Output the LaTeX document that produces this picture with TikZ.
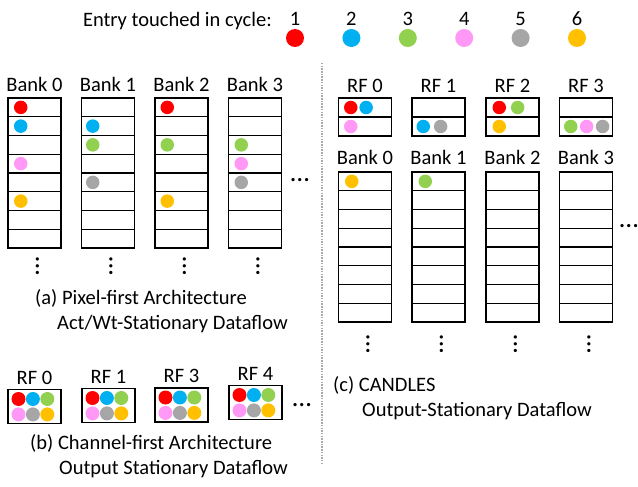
\documentclass[tikz,border=0pt]{standalone}
\usepackage{fontspec}
\setmainfont{Carlito}
\usetikzlibrary{positioning}
\definecolor{cyc1}{RGB}{255,0,0}
\definecolor{cyc2}{RGB}{0,176,240}
\definecolor{cyc3}{RGB}{146,208,80}
\definecolor{cyc4}{RGB}{255,153,245}
\definecolor{cyc5}{RGB}{166,166,166}
\definecolor{cyc6}{RGB}{255,192,0}
\tikzset{
  txt/.style = {inner sep=0pt, text height=13pt, text depth=0pt, font=\fontsize{20.5}{24}\selectfont},
  more/.style = {inner sep=0pt, text height=2.5pt, text depth=0pt, font=\fontsize{27}{30}\selectfont},
  cell/.style = {draw=black, line width=1.4pt, minimum width=53pt, minimum height=18.75pt, inner sep=0pt},
  rf_box/.style = {cell, minimum height=34pt},
  dot/.style = {circle, fill=cyc#1, inner sep=0pt, minimum size=13.5pt},
  big_dot/.style = {dot=#1, minimum size=14pt},
  sep_line/.style = {draw=black!33, line width=2pt, dash pattern=on 1.5pt off 1.2pt}
}

\begin{document}
\begin{tikzpicture}[x=1pt, y=1pt]
  \useasboundingbox (0,0) rectangle (638,-487);

  % legend
  \node[txt, anchor=east] (legend) at (272,-20) {Entry touched in cycle:};
  \foreach \i in {1,...,6} {
    \node[txt] (num\i) at (238.6+56.4*\i,-19) {\i};
    \node[dot=\i, minimum size=18pt] (leg\i) at (238.6+56.4*\i,-38) {};
  }

  % (a) pixel-first banks
  \foreach \b/\x in {0/8,1/81.5,2/155,3/228.5} {
    \node[txt] (abank\b) at (\x+26.5,-85) {Bank \b};
    \foreach \r in {1,...,8}
      \node[cell] (a\b-\r) at (\x+26.5,-88.625-18.75*\r) {};
    \node[more, rotate=90] (avd\b) at (\x+29.5,-266) {…};
  }
  \node[more] (ahd) at (300,-180) {…};
  % Bank 0
  \node[dot=1, right=6.5pt of a0-1.west] (ad0-1) {};
  \node[dot=2, right=6.5pt of a0-2.west] (ad0-2) {};
  \node[dot=4, right=6.5pt of a0-4.west] (ad0-4) {};
  \node[dot=6, right=6.5pt of a0-6.west] (ad0-6) {};
  % Bank 1
  \node[dot=2, right=5pt of a1-2.west] (ad1-2) {};
  \node[dot=3, right=5pt of a1-3.west] (ad1-3) {};
  \node[dot=5, right=5pt of a1-5.west] (ad1-5) {};
  % Bank 2
  \node[dot=1, right=6pt of a2-1.west] (ad2-1) {};
  \node[dot=3, right=6pt of a2-3.west] (ad2-3) {};
  \node[dot=6, right=6pt of a2-6.west] (ad2-6) {};
  % Bank 3
  \node[dot=3, right=6.5pt of a3-3.west] (ad3-3) {};
  \node[dot=4, right=6.5pt of a3-4.west] (ad3-4) {};
  \node[dot=5, right=6.5pt of a3-5.west] (ad3-5) {};

  \node[txt, anchor=west] (capa1) at (35,-298) {(a) Pixel-first Architecture};
  \node[txt, anchor=west] (capa2) at (57,-323) {Act/Wt-Stationary Dataflow};

  % (b) channel-first register files
  \foreach \b/\n/\x/\y in {0/0/8/406.5,1/1/82/405.5,2/3/155/405,3/4/229/402.5} {
    \node[txt] (brf\b) at (\x+26.5,29-\y) {RF \n};
    \node[rf_box] (b\b) at (\x+26.5,-\y) {};
    \node[big_dot=1, right=4pt of b\b.west, yshift=7.5pt] (b\b-1) {};
    \node[big_dot=2, right=0pt of b\b-1] (b\b-2) {};
    \node[big_dot=3, right=0pt of b\b-2] (b\b-3) {};
    \node[big_dot=4, below=1pt of b\b-1] (b\b-4) {};
    \node[big_dot=5, right=0pt of b\b-4] (b\b-5) {};
    \node[big_dot=6, right=0pt of b\b-5] (b\b-6) {};
  }
  \node[more] (bhd) at (302,-405) {…};

  \node[txt, anchor=west] (capb1) at (30,-443) {(b) Channel-first Architecture};
  \node[txt, anchor=west] (capb2) at (59,-468) {Output Stationary Dataflow};

  % divider
  \coordinate (divtop) at (322,-63);
  \coordinate (divbot) at (322,-465);
  \draw[sep_line] (divtop) -- (divbot);

  % (c) CANDLES
  \foreach \b/\x in {0/338.5,1/412,2/486,3/559.5} {
    \node[txt] (crf\b) at (\x+26.5,-86) {RF \b};
    \node[cell, minimum height=19pt] (cr\b-1) at (\x+26.5,-107.5) {};
    \node[cell, minimum height=19pt] (cr\b-2) at (\x+26.5,-126.5) {};
    \node[txt] (cbank\b) at (\x+26.5,-158) {Bank \b};
    \foreach \r in {1,...,8}
      \node[cell] (c\b-\r) at (\x+26.5,-162.625-18.75*\r) {};
    \node[more, rotate=90] (cvd\b) at (\x+29.5,-344) {…};
  }
  \node[more] (chd) at (629,-226) {…};
  % RF 0
  \node[dot=1, right=6pt of cr0-1.west] (crd0-1) {};
  \node[dot=2, right=1.5pt of crd0-1] (crd0-2) {};
  \node[dot=4, right=6pt of cr0-2.west] (crd0-4) {};
  % RF 1
  \node[dot=2, right=5pt of cr1-2.west] (crd1-2) {};
  \node[dot=5, right=3.5pt of crd1-2] (crd1-5) {};
  % RF 2
  \node[dot=1, right=7pt of cr2-1.west] (crd2-1) {};
  \node[dot=3, right=4.5pt of crd2-1] (crd2-3) {};
  \node[dot=6, right=7pt of cr2-2.west] (crd2-6) {};
  % RF 3
  \node[dot=3, right=5pt of cr3-2.west] (crd3-3) {};
  \node[dot=4, right=2pt of crd3-3] (crd3-4) {};
  \node[dot=5, right=2pt of crd3-4] (crd3-5) {};
  % Bank 0 and 1
  \node[dot=6, right=7pt of c0-1.west] (cd0-6) {};
  \node[dot=3, right=7pt of c1-1.west] (cd1-3) {};

  \node[txt, anchor=west] (capc1) at (333,-385) {(c) CANDLES};
  \node[txt, anchor=west] (capc2) at (362,-410) {Output-Stationary Dataflow};
\end{tikzpicture}
\end{document}
